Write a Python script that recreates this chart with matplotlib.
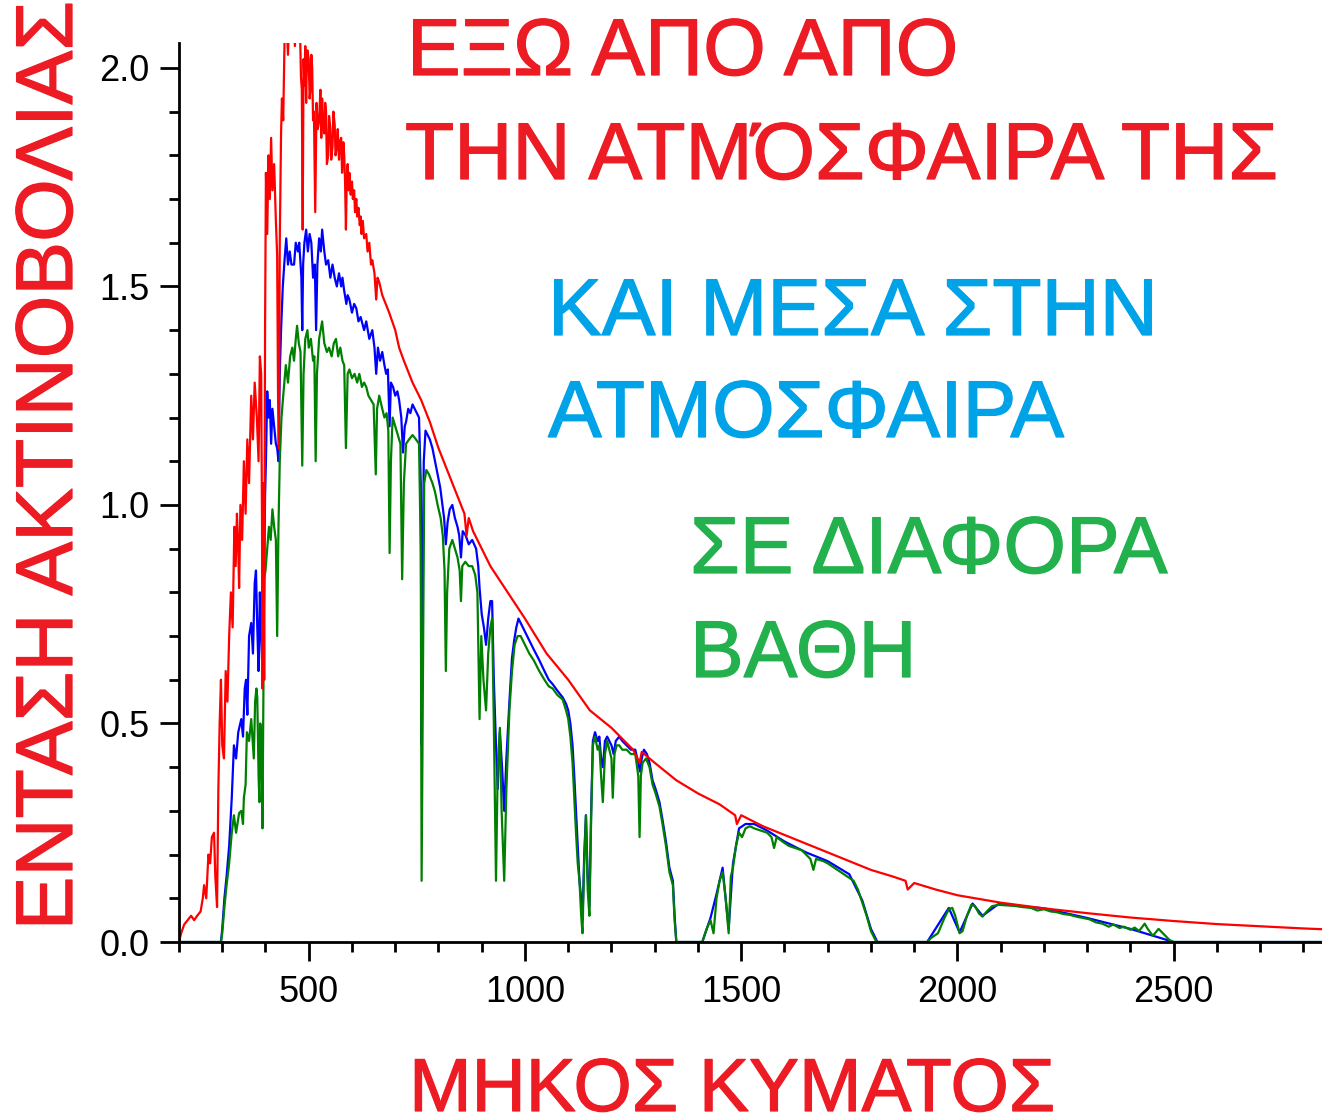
import matplotlib
matplotlib.use("Agg")
import matplotlib.pyplot as plt
import matplotlib.patheffects as pe
from matplotlib.ticker import MultipleLocator

# wavelength (nm) / irradiance pairs
etr_nm = [200, 205, 212, 220, 228, 235, 242, 250, 255, 258, 263, 268, 272, 276, 281, 284, 288,
          291, 294, 297, 300, 304, 308, 312, 316, 320, 324, 328, 331, 334, 337, 339, 342, 346,
          350, 354, 358, 362, 367, 371, 375, 380, 384, 387, 390, 392, 393, 395, 397, 399, 401,
          404, 407, 410, 413, 416, 420, 424, 427, 429, 431, 433, 436, 438, 441, 444, 448, 452,
          456, 460, 464, 468, 472, 476, 480, 482, 484, 486, 488, 490, 492, 494, 495, 497, 500,
          502, 504, 506, 508, 510, 512, 515, 517, 518, 521, 524, 527, 529, 531, 533, 536, 538,
          540, 542, 545, 547, 550, 552, 555, 557, 560, 562, 565, 567, 570, 572, 575, 577, 578,
          580, 582, 584, 586, 588, 590, 592, 594, 597, 600, 602, 605, 607, 610, 612, 615, 618,
          620, 622, 625, 628, 633, 636, 640, 644, 647, 652, 656, 659, 663, 670, 686, 700, 709,
          720, 740, 760, 780, 800, 820, 840, 860, 865, 870, 880, 900, 920, 940, 960, 980, 1000,
          1050, 1100, 1150, 1200, 1250, 1265, 1270, 1300, 1350, 1400, 1450, 1486, 1490, 1500,
          1550, 1600, 1650, 1700, 1750, 1800, 1850, 1880, 1885, 1900, 1950, 2000, 2100, 2200,
          2300, 2400, 2500, 2600, 2700, 2800, 2850]
etr_val = [0.00, 0.02, 0.04, 0.05, 0.06, 0.05, 0.06, 0.07, 0.10, 0.13, 0.10, 0.20, 0.18, 0.24,
           0.25, 0.15, 0.08, 0.35, 0.50, 0.60, 0.45, 0.42, 0.62, 0.55, 0.70, 0.80, 0.72, 0.95,
           0.86, 0.98, 0.90, 0.81, 1.00, 0.92, 1.10, 0.98, 1.15, 1.05, 1.25, 1.15, 1.28, 1.20,
           1.10, 1.34, 1.30, 0.95, 0.58, 1.05, 0.60, 1.40, 1.76, 1.62, 1.80, 1.70, 1.84, 1.72,
           1.78, 1.65, 1.57, 1.25, 1.13, 1.60, 1.85, 1.93, 1.88, 2.06, 2.12, 2.03, 2.15, 2.08,
           2.18, 2.05, 2.12, 2.07, 2.08, 1.98, 1.95, 1.63, 2.02, 1.96, 2.05, 1.92, 1.98, 2.04,
           2.02, 1.93, 1.95, 2.03, 2.00, 1.88, 1.90, 1.67, 1.85, 1.92, 1.86, 1.88, 1.95, 1.84,
           1.93, 1.87, 1.85, 1.92, 1.90, 1.78, 1.80, 1.89, 1.86, 1.79, 1.82, 1.90, 1.87, 1.80,
           1.82, 1.86, 1.79, 1.83, 1.84, 1.76, 1.78, 1.83, 1.80, 1.74, 1.63, 1.75, 1.78, 1.72,
           1.76, 1.71, 1.74, 1.70, 1.72, 1.67, 1.70, 1.66, 1.68, 1.64, 1.66, 1.62, 1.65, 1.61,
           1.62, 1.58, 1.60, 1.55, 1.56, 1.53, 1.47, 1.52, 1.51, 1.48, 1.44, 1.40, 1.36, 1.33,
           1.28, 1.24, 1.19, 1.13, 1.08, 1.03, 0.98, 0.93, 0.97, 0.94, 0.90, 0.86, 0.83, 0.80,
           0.77, 0.74, 0.66, 0.60, 0.53, 0.49, 0.44, 0.41, 0.435, 0.41, 0.37, 0.34, 0.315, 0.29,
           0.27, 0.29, 0.265, 0.245, 0.225, 0.205, 0.185, 0.165, 0.15, 0.14, 0.12, 0.135, 0.12,
           0.107, 0.09, 0.077, 0.066, 0.056, 0.048, 0.041, 0.036, 0.031, 0.029]

global_nm = [200, 295, 297, 300, 305, 310, 316, 322, 327, 332, 337, 344, 348, 352, 355, 358, 362,
             367, 371, 375, 378, 381, 384, 387, 390, 393, 396, 399, 401, 404, 407, 410, 413, 416,
             420, 424, 427, 430, 433, 436, 440, 444, 448, 452, 456, 460, 466, 470, 475, 478, 483,
             485, 487, 490, 494, 498, 502, 506, 510, 514, 517, 520, 524, 528, 531, 536, 540, 545,
             550, 555, 560, 565, 570, 575, 578, 582, 587, 590, 594, 600, 605, 610, 615, 620, 628,
             633, 640, 647, 652, 656, 660, 665, 670, 675, 679, 683, 687, 690, 695, 700, 705, 709,
             714, 718, 722, 725, 730, 735, 740, 745, 750, 755, 759, 761, 763, 766, 770, 775, 780,
             786, 792, 798, 804, 809, 813, 817, 821, 826, 832, 838, 844, 848, 852, 856, 863, 870,
             878, 887, 892, 895, 900, 905, 910, 915, 920, 924, 928, 933, 937, 942, 947, 952, 957,
             964, 970, 975, 980, 985, 990, 1000, 1010, 1020, 1033, 1045, 1055, 1064, 1075, 1087,
             1095, 1100, 1105, 1110, 1114, 1118, 1122, 1126, 1130, 1133, 1137, 1141, 1145, 1149,
             1153, 1157, 1162, 1168, 1172, 1176, 1180, 1185, 1190, 1195, 1200, 1205, 1210, 1218,
             1225, 1235, 1245, 1255, 1262, 1266, 1270, 1275, 1282, 1288, 1295, 1302, 1311, 1318,
             1326, 1334, 1342, 1346, 1350, 1410, 1429, 1443, 1457, 1471, 1481, 1495, 1510, 1530,
             1560, 1600, 1650, 1700, 1750, 1780, 1800, 1815, 1930, 1980, 2005, 2035, 2058, 2095,
             2200, 2300, 2400, 2500, 2850]
global_val = [0.0, 0.0, 0.0, 0.03, 0.10, 0.15, 0.22, 0.33, 0.45, 0.42, 0.48, 0.51, 0.47, 0.58,
              0.60, 0.52, 0.70, 0.73, 0.66, 0.82, 0.85, 0.72, 0.62, 0.80, 0.70, 0.62, 0.75, 1.02,
              1.10, 1.26, 1.20, 1.24, 1.14, 1.22, 1.18, 1.14, 1.13, 1.10, 1.30, 1.40, 1.50, 1.56,
              1.61, 1.55, 1.58, 1.55, 1.55, 1.60, 1.58, 1.60, 1.52, 1.40, 1.55, 1.60, 1.63, 1.58,
              1.62, 1.60, 1.52, 1.55, 1.40, 1.55, 1.61, 1.58, 1.63, 1.58, 1.55, 1.56, 1.52, 1.55,
              1.52, 1.50, 1.53, 1.50, 1.52, 1.49, 1.46, 1.48, 1.47, 1.44, 1.46, 1.45, 1.42, 1.43,
              1.40, 1.42, 1.38, 1.40, 1.36, 1.30, 1.36, 1.33, 1.35, 1.32, 1.30, 1.31, 1.18, 1.28,
              1.27, 1.25, 1.26, 1.24, 1.20, 1.12, 1.18, 1.19, 1.22, 1.21, 1.23, 1.22, 1.21, 1.20,
              1.05, 0.45, 0.80, 1.10, 1.17, 1.16, 1.15, 1.13, 1.10, 1.07, 1.04, 1.00, 0.97, 0.91,
              0.96, 0.99, 1.00, 0.97, 0.95, 0.93, 0.88, 0.94, 0.93, 0.91, 0.92, 0.90, 0.86, 0.81,
              0.75, 0.72, 0.68, 0.74, 0.78, 0.78, 0.60, 0.45, 0.35, 0.48, 0.40, 0.30, 0.42, 0.55,
              0.65, 0.69, 0.72, 0.74, 0.73, 0.71, 0.69, 0.67, 0.645, 0.62, 0.60, 0.59, 0.575, 0.56,
              0.545, 0.53, 0.50, 0.45, 0.38, 0.30, 0.22, 0.14, 0.10, 0.05, 0.20, 0.29, 0.15, 0.08,
              0.30, 0.46, 0.48, 0.46, 0.47, 0.42, 0.40, 0.46, 0.47, 0.46, 0.45, 0.43, 0.46, 0.47,
              0.46, 0.45, 0.44, 0.44, 0.41, 0.39, 0.42, 0.44, 0.43, 0.41, 0.37, 0.35, 0.32, 0.28,
              0.23, 0.17, 0.14, 0.06, 0.0, 0.0, 0.055, 0.11, 0.17, 0.03, 0.18, 0.26, 0.27, 0.27,
              0.255, 0.23, 0.205, 0.185, 0.155, 0.095, 0.03, 0.0, 0.0, 0.078, 0.022, 0.088, 0.06,
              0.087, 0.077, 0.055, 0.03, 0.0, 0.0]

direct_nm = [200, 297, 300, 305, 310, 316, 322, 327, 332, 339, 344, 348, 350, 354, 357, 362, 367,
             371, 373, 376, 379, 381, 384, 386, 388, 391, 393, 395, 397, 400, 404, 408, 412, 416,
             420, 424, 427, 430, 433, 437, 441, 447, 452, 457, 462, 466, 470, 473, 477, 481, 485,
             488, 492, 497, 500, 505, 510, 513, 516, 519, 524, 531, 536, 542, 547, 553, 558, 563,
             568, 573, 578, 582, 586, 590, 594, 600, 606, 612, 617, 623, 628, 633, 638, 644, 650,
             655, 658, 663, 670, 675, 680, 684, 687, 690, 694, 700, 706, 712, 716, 720, 725, 732,
             740, 748, 755, 759, 761, 764, 767, 772, 778, 786, 792, 798, 805, 810, 814, 817, 820,
             825, 832, 838, 844, 849, 852, 855, 862, 870, 878, 885, 890, 895, 899, 904, 910, 915,
             920, 924, 928, 933, 937, 942, 946, 952, 957, 964, 970, 976, 983, 990, 1000, 1010,
             1020, 1033, 1045, 1055, 1064, 1075, 1087, 1095, 1100, 1105, 1110, 1114, 1118, 1122,
             1126, 1130, 1133, 1137, 1141, 1145, 1149, 1153, 1157, 1162, 1168, 1172, 1176, 1180,
             1185, 1190, 1195, 1200, 1203, 1207, 1212, 1218, 1225, 1235, 1245, 1255, 1262, 1265,
             1268, 1272, 1280, 1288, 1295, 1302, 1311, 1318, 1326, 1334, 1342, 1346, 1350, 1410,
             1420, 1429, 1436, 1443, 1450, 1457, 1464, 1471, 1476, 1481, 1488, 1495, 1502, 1510,
             1520, 1530, 1545, 1560, 1570, 1576, 1582, 1595, 1610, 1625, 1640, 1650, 1660, 1667,
             1673, 1690, 1700, 1715, 1730, 1745, 1760, 1770, 1780, 1790, 1800, 1810, 1815, 1930,
             1940, 1955, 1970, 1980, 1988, 1995, 2005, 2012, 2022, 2032, 2040, 2050, 2058, 2068,
             2080, 2095, 2110, 2130, 2150, 2170, 2185, 2200, 2215, 2230, 2245, 2260, 2275, 2290,
             2305, 2320, 2335, 2350, 2360, 2375, 2385, 2400, 2410, 2420, 2433, 2440, 2452, 2465,
             2475, 2490, 2500, 2850]
direct_val = [0.0, 0.0, 0.02, 0.08, 0.13, 0.18, 0.25, 0.29, 0.25, 0.295, 0.30, 0.27, 0.33, 0.36,
              0.48, 0.46, 0.51, 0.45, 0.42, 0.55, 0.58, 0.56, 0.38, 0.32, 0.50, 0.45, 0.26, 0.55,
              0.83, 0.85, 0.90, 0.95, 0.92, 0.99, 0.95, 0.92, 0.70, 0.95, 1.10, 1.20, 1.25, 1.32,
              1.28, 1.34, 1.36, 1.33, 1.38, 1.41, 1.37, 1.35, 1.09, 1.30, 1.38, 1.40, 1.36, 1.38,
              1.33, 1.34, 1.10, 1.30, 1.38, 1.42, 1.37, 1.35, 1.36, 1.34, 1.37, 1.38, 1.34, 1.36,
              1.33, 1.32, 1.13, 1.30, 1.31, 1.29, 1.30, 1.28, 1.30, 1.27, 1.28, 1.27, 1.25, 1.24,
              1.23, 1.07, 1.22, 1.25, 1.22, 1.20, 1.21, 1.17, 0.89, 1.10, 1.20, 1.18, 1.16, 1.14,
              0.83, 1.05, 1.14, 1.15, 1.16, 1.15, 1.14, 0.90, 0.14, 0.60, 1.05, 1.08, 1.07, 1.05,
              1.03, 1.00, 0.97, 0.93, 0.85, 0.62, 0.80, 0.90, 0.92, 0.90, 0.88, 0.85, 0.78, 0.86,
              0.87, 0.86, 0.86, 0.84, 0.80, 0.51, 0.70, 0.60, 0.53, 0.66, 0.72, 0.74, 0.50, 0.14,
              0.40, 0.49, 0.30, 0.14, 0.35, 0.53, 0.62, 0.68, 0.70, 0.70, 0.68, 0.66, 0.645, 0.62,
              0.60, 0.585, 0.58, 0.565, 0.555, 0.53, 0.51, 0.47, 0.41, 0.33, 0.25, 0.18, 0.14, 0.06,
              0.02, 0.18, 0.29, 0.12, 0.06, 0.28, 0.45, 0.47, 0.44, 0.45, 0.38, 0.32, 0.43, 0.46,
              0.44, 0.42, 0.33, 0.43, 0.45, 0.45, 0.44, 0.44, 0.43, 0.43, 0.38, 0.24, 0.38, 0.41,
              0.42, 0.40, 0.36, 0.34, 0.31, 0.27, 0.22, 0.16, 0.13, 0.05, 0.0, 0.0, 0.03, 0.05, 0.02,
              0.10, 0.14, 0.16, 0.10, 0.02, 0.15, 0.17, 0.22, 0.25, 0.24, 0.26, 0.265, 0.26, 0.255,
              0.25, 0.24, 0.215, 0.24, 0.23, 0.22, 0.215, 0.21, 0.20, 0.19, 0.165, 0.19, 0.185,
              0.18, 0.17, 0.16, 0.15, 0.14, 0.12, 0.09, 0.06, 0.025, 0.005, 0.0, 0.0, 0.01, 0.02,
              0.055, 0.075, 0.078, 0.06, 0.02, 0.025, 0.06, 0.085, 0.083, 0.065, 0.058, 0.07, 0.082,
              0.085, 0.084, 0.083, 0.080, 0.078, 0.072, 0.075, 0.07, 0.068, 0.064, 0.062, 0.058,
              0.055, 0.052, 0.045, 0.042, 0.035, 0.040, 0.032, 0.035, 0.028, 0.033, 0.025, 0.042,
              0.03, 0.014, 0.03, 0.02, 0.005, 0.0, 0.0]

title_lines = [
    ("ΕΞΩ ΑΠΟ ΑΠΟ", 407, 75, "#ed1c24"),
    ("ΤΗΝ ΑΤΜΌΣΦΑΙΡΑ ΤΗΣ", 405, 179, "#ed1c24"),
    ("ΚΑΙ ΜΕΣΑ ΣΤΗΝ", 548, 335, "#00a2e8"),
    ("ΑΤΜΟΣΦΑΙΡΑ", 548, 437, "#00a2e8"),
    ("ΣΕ ΔΙΑΦΟΡΑ", 690, 573, "#22b14c"),
    ("ΒΑΘΗ", 690, 677, "#22b14c"),
]
x_label = "ΜΗΚΟΣ ΚΥΜΑΤΟΣ"
y_label = "ΕΝΤΑΣΗ ΑΚΤΙΝΟΒΟΛΙΑΣ"
x_ticks = [500, 1000, 1500, 2000, 2500]

W, H = 1322, 1118
FONT = ["Liberation Sans", "DejaVu Sans"]


def heavy(color):
    # the reference lettering is a touch heavier than Liberation Sans regular
    return [pe.Stroke(linewidth=0.9, foreground=color), pe.Normal()]


fig = plt.figure(figsize=(W / 100, H / 100), dpi=100)
ax = fig.add_axes([179 / W, 1 - 942 / H, 1 - 179 / W, (942 - 43) / H])

ax.plot(global_nm, global_val, color="#0000ff", lw=1.6)
ax.plot(direct_nm, direct_val, color="#008000", lw=1.6)
ax.plot(etr_nm, etr_val, color="#ff0000", lw=1.6)

ax.set_xlim(200, 2843)
ax.set_ylim(0, 2.057)
for side in ("top", "right"):
    ax.spines[side].set_visible(False)
for side in ("left", "bottom"):
    ax.spines[side].set_linewidth(2)
ax.xaxis.set_minor_locator(MultipleLocator(100))
ax.yaxis.set_major_locator(MultipleLocator(0.5))
ax.yaxis.set_minor_locator(MultipleLocator(0.1))
ax.tick_params(which="major", length=14, width=2, labelsize=26)
ax.tick_params(axis="x", which="major", pad=10)
ax.tick_params(axis="y", which="major", pad=7)
ax.tick_params(which="minor", length=7, width=2)
ax.set_xticks(x_ticks)
ax.set_xticklabels([str(t) for t in x_ticks])
ax.set_yticklabels([f"{v:.1f}" for v in ax.get_yticks()])
for lab in ax.get_xticklabels() + ax.get_yticklabels():
    lab.set_family(FONT)

for text, x, y, color in title_lines:
    fig.text(x / W, 1 - y / H, text, color=color, fontsize=58, family=FONT,
             ha="left", va="baseline", path_effects=heavy(color))

fig.text(732 / W, 1 - 1111 / H, x_label, color="#ed1c24", fontsize=54,
         family=FONT, ha="center", va="baseline", path_effects=heavy("#ed1c24"))
fig.text(72 / W, 1 - 466 / H, y_label, color="#ed1c24", fontsize=58,
         family=FONT, rotation=90, rotation_mode="anchor", ha="center", va="baseline",
         path_effects=heavy("#ed1c24"))

fig.savefig("out.png", dpi=100)
